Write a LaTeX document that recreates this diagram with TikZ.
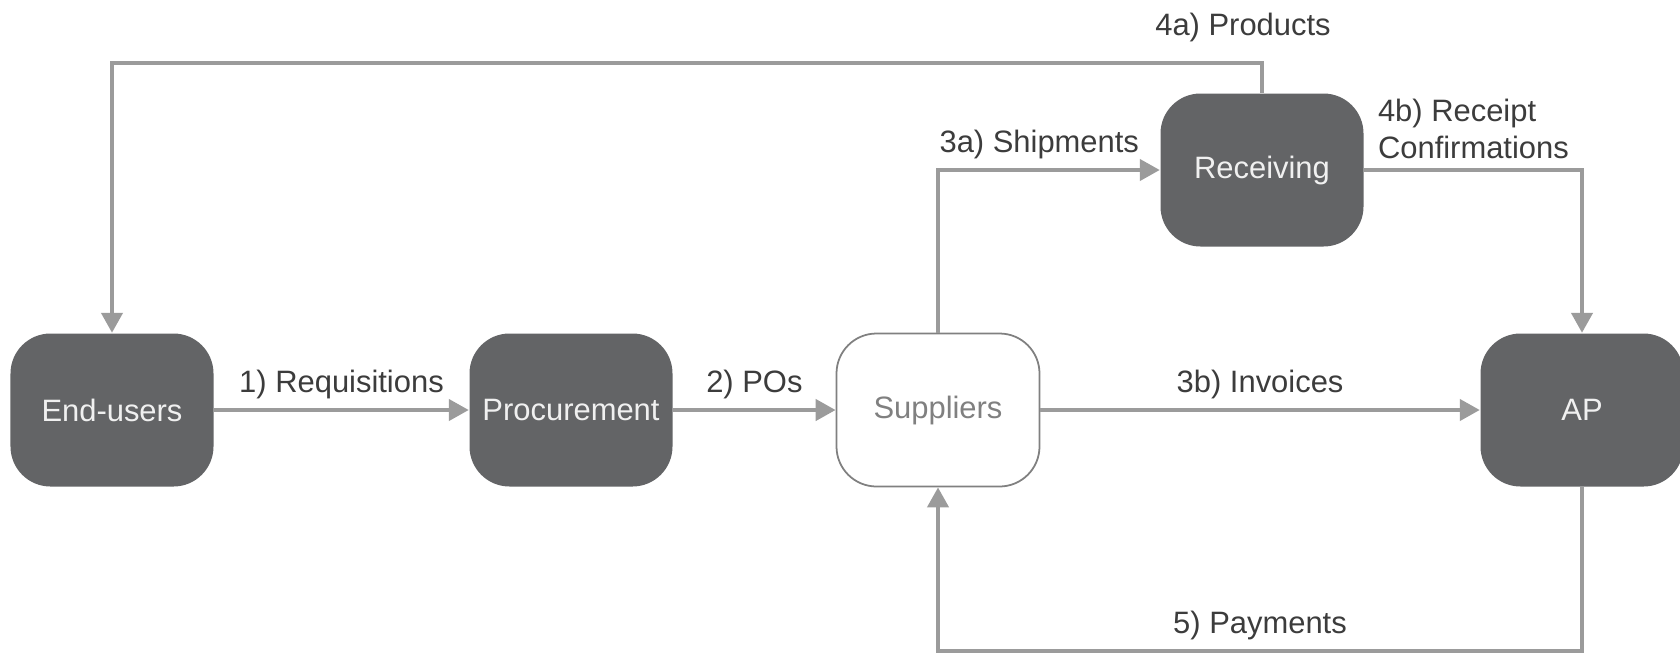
\documentclass[tikz,border=0pt]{standalone}
\usepackage{fontspec}
\setmainfont{Liberation Sans}
\usetikzlibrary{arrows.meta, positioning}
\definecolor{cbox}{RGB}{99,100,102}
\definecolor{cline}{RGB}{155,155,155}
\definecolor{ctext}{RGB}{60,60,60}
\definecolor{csup}{RGB}{128,128,128}

\begin{document}
\begin{tikzpicture}[
    >={Triangle[length=2mm, width=2.1mm]},
    procbox/.style={fill=cbox, rounded corners=0.4cm, minimum width=2.03cm, minimum height=1.53cm, text=white!94!black, font=\fontsize{8.8}{10.6}\selectfont, inner sep=0pt},
    flow/.style={->, cline, line width=1.2pt},
    lbl/.style={text=ctext, font=\fontsize{8.8}{10.6}\selectfont, align=left, yshift=-0.03cm},
]
    \useasboundingbox (0,0) rectangle (16.8,6.54);

    % Main row
    \node[procbox] (eu) at (1.12, 2.44) {End-users};
    \node[procbox] (proc) at (5.71, 2.44) {Procurement};
    \node[procbox, fill=white, draw=csup, line width=0.5pt, text=csup] (sup) at (9.38, 2.44) {Suppliers};
    \node[procbox] (ap) at (15.82, 2.44) {AP};
    \node[procbox] (recv) at (12.62, 4.84) {Receiving};

    \draw[flow] (eu) -- node[lbl, above] {1) Requisitions} (proc);
    \draw[flow] (proc) -- node[lbl, above] {2) POs} (sup);
    \draw[flow] (sup) -- node[lbl, above] {3b) Invoices} (ap);

    % Receiving loop
    \draw[flow] (sup.north) |- node[lbl, above left, pos=1, xshift=-0.07cm] {3a) Shipments} (recv.west);
    \draw[flow] (recv.east) -| node[lbl, above right, pos=0] {4b) Receipt\\Confirmations} (ap.north);
    \draw[flow] (recv.north) -- ++(0,0.3) node[lbl, above, xshift=-0.19cm, yshift=0.1cm] {4a) Products} -| (eu.north);

    % Payments
    \draw[flow] (ap.south) -- ++(0,-1.635) -| node[lbl, above, pos=0.25] {5) Payments} (sup.south);
\end{tikzpicture}
\end{document}
